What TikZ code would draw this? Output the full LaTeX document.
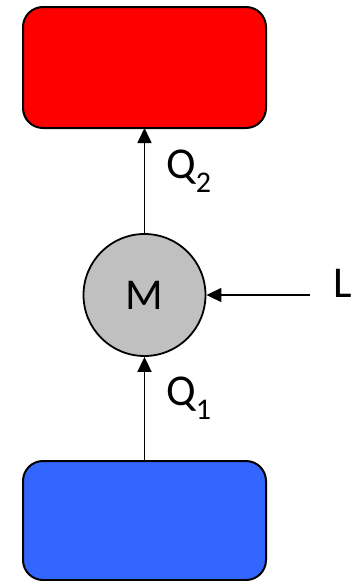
\documentclass[tikz,border=0pt]{standalone}
\usepackage{fontspec}
\setmainfont{Carlito}
\usetikzlibrary{arrows.meta}
\newcommand{\mysub}[1]{\raisebox{-0.32em}{\fontsize{30}{30}\selectfont #1}}
\tikzset{
  box/.style={draw=black, line width=2pt, rounded corners=20pt},
  flow/.style={draw=black, line width=1.7pt, -{Triangle[width=14pt,length=15pt]}},
  lbl/.style={font=\fontsize{44}{44}\selectfont, inner sep=0pt},
}
\begin{document}
\begin{tikzpicture}[x=1pt,y=-1pt]
\useasboundingbox (0,0) rectangle (351,581);
\path[box, fill={rgb,255:red,255;green,0;blue,0}] (23,7) rectangle (266,128);
\path[box, fill={rgb,255:red,51;green,102;blue,255}] (23,461) rectangle (266,580);
\coordinate (redb) at (144.5,128);
\coordinate (blut) at (144.5,461);
\node[circle, draw=black, line width=1.8pt, fill={rgb,255:red,192;green,192;blue,192}, minimum size=122pt, inner sep=0pt] (m) at (144.5,295) {};
\node[lbl] at (144.5,295) {M};
\coordinate (lstart) at (310,295);
\draw[flow] (m.north) -- (redb);
\draw[flow] (blut) -- (m.south);
\draw[flow] (lstart) -- (m.east);
\node[lbl, anchor=base west] (q2) at (166,178) {Q\mysub{2}};
\node[lbl, anchor=base west] (q1) at (166,405) {Q\mysub{1}};
\node[lbl, anchor=base west] (l) at (333,297) {L};
\end{tikzpicture}
\end{document}
